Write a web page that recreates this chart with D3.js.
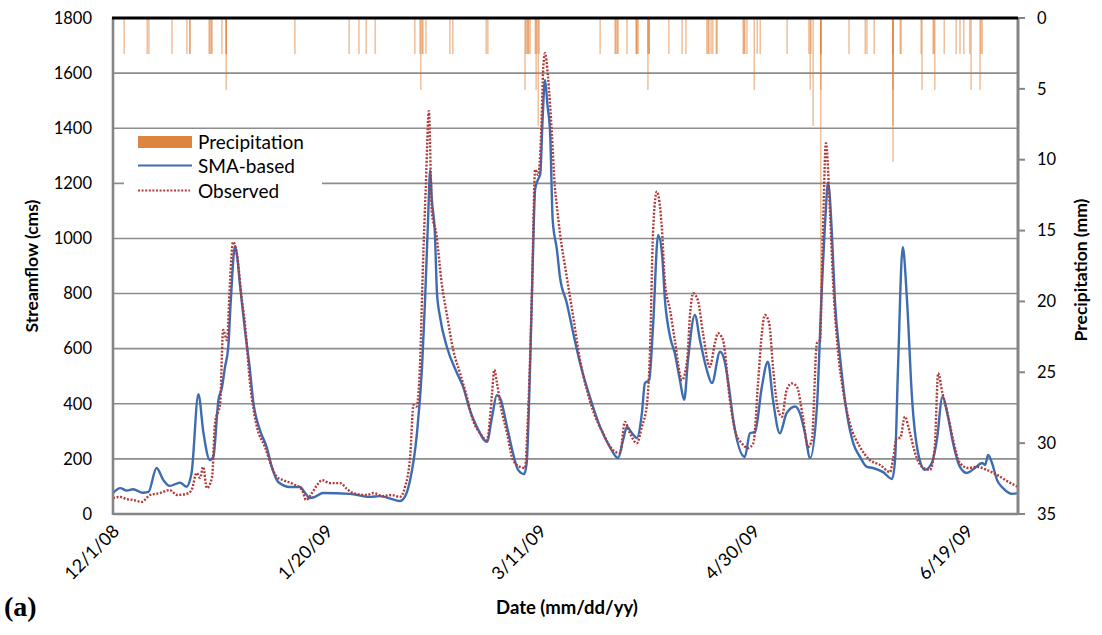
<!DOCTYPE html>
<html><head><meta charset="utf-8">
<script src="https://cdn.jsdelivr.net/npm/d3@7"></script>
<style>body{margin:0;background:#fff}</style>
</head><body><svg id="c" width="1102" height="635"></svg>
<script>
// ---------------- data ----------------
const startDate = "12/1/08";
const endDate = "7/1/09";
const xTickLabels = ["12/1/08", "1/20/09", "3/11/09", "4/30/09", "6/19/09"];
const yLeftTicks = [0, 200, 400, 600, 800, 1000, 1200, 1400, 1600, 1800];
const yRightTicks = [0, 5, 10, 15, 20, 25, 30, 35];
const seriesNames = ["Precipitation", "SMA-based", "Observed"];

// days since 12/1/08
const smaDays = [0,1.7,3.2,4.7,7,8.3,10.2,11.8,13.3,15.7,17.2,18.4,20,21.2,22.7,23.5,24.7,25.5,26.2,27,27.6,28.6,29.1,29.7,30.9,32,32.8,34.4,36,37.2,38.7,41.5,43.8,45,46.1,47.3,49.2,55.5,60.2,62.5,65.6,67.2,68.4,69.6,71.2,72.4,73.1,73.8,74.3,74.7,75.4,75.9,76.6,78.2,80.6,82,83.6,85.2,87.6,88.8,89.9,90.7,92.3,93.7,94.9,96.3,96.9,97.7,98.3,98.9,99.6,100.1,100.6,101.2,101.8,102.4,103,104,104.7,106.3,107.8,109.4,111.7,114.1,116.4,118.3,119.5,120.4,121.6,122.7,123.9,124.6,125.6,126.5,127.7,128.6,129.3,130.5,131.6,132.8,133.8,134.7,136.3,137.5,139.1,140.3,142.2,143.2,144.2,145.3,148,149.2,150.4,152,153.4,154.6,156.2,157.8,159.8,160.9,162.1,163.3,164.9,166,166.9,167.5,168.4,169.1,170.3,171.9,173.4,175,176.6,178,180.4,182.5,183.2,183.9,185,186,187.2,188.6,190.2,191.8,193,194.3,195.6,196.8,198.4,200,201.9,203.6,204.3,205,205.9,207.1,208.5,210.6,212];
const smaValues = [76,94,85,90,77,80,167,123,102,114,99,149,435,293,196,207,414,457,530,606,776,973,933,838,668,534,414,305,243,171,116,98,98,76,58,62,76,73,62,65,53,47,63,123,293,534,776,1067,1248,1140,1020,801,716,607,511,462,377,317,262,353,431,420,317,221,160,145,185,534,897,1180,1215,1235,1420,1575,1480,1382,1067,958,860,766,657,548,425,316,243,203,269,316,293,276,366,475,486,679,1012,946,776,643,583,486,414,559,722,631,523,475,589,560,470,341,207,293,298,462,553,414,293,366,390,366,293,203,390,801,1080,1202,1020,776,571,366,257,207,171,167,152,127,196,534,969,776,414,221,160,185,269,425,353,257,171,149,167,185,178,214,185,123,94,73,76];

const obsDays = [0,1.7,3.2,4.7,6.7,8.7,11,13.3,15,17.2,18.4,19.6,20.4,21.1,22,23.2,23.9,25.1,25.8,26.7,27.4,28.1,29,30.2,30.9,32.1,33.7,35.6,37.2,38.4,39.8,42.2,44.3,45.2,46.6,47.8,49,50.8,53.2,54.8,56.2,59.5,61,63.2,65.3,67.2,68.4,69.6,70.4,71.1,71.9,72.6,73.3,74,74.7,75.7,77,78.3,79.7,81.3,82.9,84.3,86,87.6,88.8,89.3,89.9,90.7,92.3,93.7,95.3,96.5,97.2,98.1,98.9,99.6,100.3,100.8,101.2,101.9,102.8,103.5,104,104.7,106.3,107.8,109.4,111,112.4,114.8,117.1,118.8,119.9,121.1,122.7,123.9,125.1,125.8,126.5,127.4,128.6,129.3,130.5,131.6,133.3,134.5,135.2,135.9,137,138.2,139.8,141,141.7,142.9,144.5,145.9,147.3,148.7,150,151.1,152,152.7,153.7,154.6,155.8,156.7,157.8,159,160.2,161.6,162.8,163.7,164.9,165.6,166.3,167,168,168.7,169.8,171,172.6,175,177.3,179.7,182,182.7,183.6,184.4,185.5,186.7,187.9,189.5,191.4,192.5,193.3,194.3,195.5,196.8,198.4,200.3,202.4,204.7,207.1,209.4,212];
const obsValues = [58,62,54,51,44,69,76,87,69,73,87,149,131,171,94,134,330,402,668,631,838,987,946,776,692,474,317,243,171,134,123,109,87,51,76,105,123,112,112,91,76,69,76,65,69,62,98,207,396,390,534,897,1200,1462,1092,1020,838,716,595,511,425,341,293,269,438,523,480,402,293,196,171,167,353,776,1250,1230,1382,1622,1672,1587,1382,1187,1114,1020,860,716,559,450,377,293,232,221,334,293,257,317,402,595,1020,1170,1031,838,740,631,486,559,729,801,776,656,534,620,656,631,414,293,257,239,257,474,656,722,693,534,377,353,450,474,462,353,243,269,620,631,1020,1346,1078,838,595,450,330,243,196,178,152,196,276,276,353,293,221,171,160,243,511,438,366,269,185,167,171,160,142,120,98];

const precipDays = [2.6,8.0,8.4,13.8,17.3,18.0,18.0,22.5,22.7,23.0,23.2,25.5,26.5,26.5,26.5,42.6,
 55.3,57.6,59.3,61.4,70.7,71.9,72.1,72.4,72.6,73.3,78.9,79.6,87.4,87.8,96.5,96.7,97.0,97.2,97.4,97.7,98.9,99.1,99.3,99.6,99.8,
 114.1,117.6,117.8,118.1,118.3,120.4,122.5,122.7,122.7,123.0,125.3,125.3,125.6,125.6,130.2,133.3,134.2,139.1,139.4,139.6,140.1,140.5,141.3,141.5,147.6,147.8,148.0,148.5,150.2,150.9,151.6,157.9,
 163.0,163.3,163.5,164.0,165.8,165.8,165.8,165.8,172.4,176.2,176.6,178.3,182.7,182.7,182.7,182.7,184.4,184.6,189.3,189.5,192.1,192.3,192.5,194.7,197.5,198.4,199.3,200.7,201.0,203.1,203.3,203.6];
const precipValues = [2.54,2.54,2.54,2.54,2.54,2.54,2.54,2.54,2.54,2.54,2.54,2.54,2.54,2.54,5.08,2.54,
 2.54,2.54,2.54,2.54,2.54,2.54,5.08,2.54,2.54,2.54,2.54,2.54,2.54,2.54,5.08,2.54,2.54,2.54,2.54,2.54,2.54,5.08,2.54,7.62,2.54,
 2.54,2.54,2.54,2.54,2.54,2.54,2.54,2.54,2.54,2.54,5.08,2.54,2.54,2.54,2.54,2.54,2.54,2.54,2.54,2.54,2.54,2.54,2.54,2.54,2.54,2.54,2.54,2.54,5.08,2.54,2.54,2.54,
 2.54,5.08,2.54,7.62,2.54,2.54,5.08,22.86,2.54,2.54,2.54,2.54,2.54,5.08,7.62,10.16,2.54,2.54,2.54,5.08,2.54,2.54,5.08,2.54,2.54,2.54,2.54,2.54,5.08,5.08,2.54,2.54];

// ---------------- drawing ----------------
const svg = d3.select("#c");
const L = 113, R = 1018, T = 18, B = 514;
const FONT = "Lato, 'Open Sans', 'DejaVu Sans', sans-serif";
const parse = d3.utcParse("%m/%d/%y");
const t0 = parse(startDate);
const dayToDate = d => new Date(t0.getTime() + d * 864e5);

const x = d3.scaleUtc().domain([t0, parse(endDate)]).range([L, R]);
const yL = d3.scaleLinear().domain([0, 1800]).range([B, T]);
const yR = d3.scaleLinear().domain([0, 35]).range([T, B]);

// gridlines
svg.append("g").selectAll("line").data(yLeftTicks.filter(v => v > 0 && v < 1800)).join("line")
  .attr("x1", L).attr("x2", R).attr("y1", d => yL(d)).attr("y2", d => yL(d))
  .attr("stroke", "#8d8d8d").attr("stroke-width", 1.6);

// precipitation bars (hanging from top)
svg.append("g").selectAll("rect").data(precipDays.map((d, i) => ({d, v: precipValues[i]}))).join("rect")
  .attr("x", p => x(dayToDate(p.d)) - 0.6).attr("width", 1.3)
  .attr("y", yR(0)).attr("height", p => yR(p.v) - yR(0))
  .attr("fill", "#e0782a").attr("fill-opacity", 0.55);

// lines
const sma = smaDays.map((d, i) => [dayToDate(d), smaValues[i]]);
const obs = obsDays.map((d, i) => [dayToDate(d), obsValues[i]]);
const line = d3.line().x(p => x(p[0])).y(p => yL(p[1])).curve(d3.curveMonotoneX);
svg.append("path").attr("d", line(sma)).attr("fill", "none")
  .attr("stroke", "#3d6cb0").attr("stroke-width", 2.4);
svg.append("path").attr("d", line(obs)).attr("fill", "none")
  .attr("stroke", "#b03a3a").attr("stroke-width", 2.4).attr("stroke-dasharray", "2,1.6");

// axes frame
svg.append("line").attr("x1", L).attr("x2", L).attr("y1", T).attr("y2", B + 1)
  .attr("stroke", "#858585").attr("stroke-width", 2.6);
svg.append("line").attr("x1", L).attr("x2", R).attr("y1", B).attr("y2", B)
  .attr("stroke", "#858585").attr("stroke-width", 2.6);
svg.append("line").attr("x1", R).attr("x2", R).attr("y1", T).attr("y2", B + 1)
  .attr("stroke", "#858585").attr("stroke-width", 3);
svg.append("line").attr("x1", L - 1).attr("x2", R).attr("y1", T).attr("y2", T)
  .attr("stroke", "#000").attr("stroke-width", 3.2);

// left axis labels
svg.append("g").selectAll("text").data(yLeftTicks).join("text")
  .attr("x", 92).attr("y", d => yL(d)).attr("dy", "0.35em").attr("text-anchor", "end")
  .attr("font-family", FONT).attr("font-size", 16.5).attr("fill", "#000").text(d => d);

// right axis ticks and labels
svg.append("g").selectAll("line").data(yRightTicks).join("line")
  .attr("x1", R).attr("x2", R + 7).attr("y1", d => yR(d)).attr("y2", d => yR(d))
  .attr("stroke", "#858585").attr("stroke-width", 2);
svg.append("g").selectAll("text").data(yRightTicks).join("text")
  .attr("x", 1037).attr("y", d => yR(d)).attr("dy", "0.35em").attr("text-anchor", "start")
  .attr("font-family", FONT).attr("font-size", 16.5).attr("fill", "#000").text(d => d);

// x tick labels
svg.append("g").selectAll("text").data(xTickLabels).join("text")
  .attr("transform", d => `translate(${x(parse(d)) + 3},${B + 14}) rotate(-45)`)
  .attr("dy", "0.35em").attr("text-anchor", "end")
  .attr("font-family", FONT).attr("font-size", 18).attr("fill", "#000").text(d => d);

// axis titles
svg.append("text").attr("transform", `translate(38,${(T + B) / 2}) rotate(-90)`)
  .attr("text-anchor", "middle").attr("font-family", FONT).attr("font-weight", "bold")
  .attr("font-size", 17.5).text("Streamflow (cms)");
svg.append("text").attr("transform", `translate(1087,${(T + B) / 2 + 4}) rotate(-90)`)
  .attr("text-anchor", "middle").attr("font-family", FONT).attr("font-weight", "bold")
  .attr("font-size", 17.5).text("Precipitation (mm)");
svg.append("text").attr("x", 567).attr("y", 614)
  .attr("text-anchor", "middle").attr("font-family", FONT).attr("font-weight", "bold")
  .attr("font-size", 18.5).text("Date (mm/dd/yy)");
svg.append("text").attr("x", 4).attr("y", 616)
  .attr("font-family", "'Liberation Serif', 'DejaVu Serif', serif").attr("font-weight", "bold")
  .attr("font-size", 28).text("(a)");

// legend
const lg = svg.append("g");
lg.append("rect").attr("x", 124).attr("y", 131).attr("width", 198).attr("height", 70).attr("fill", "#fff");
lg.append("rect").attr("x", 138).attr("y", 136).attr("width", 54).attr("height", 12).attr("fill", "#dd8441");
lg.append("line").attr("x1", 138).attr("x2", 192).attr("y1", 165.5).attr("y2", 165.5)
  .attr("stroke", "#3d6cb0").attr("stroke-width", 1.8);
lg.append("line").attr("x1", 138).attr("x2", 190).attr("y1", 190.5).attr("y2", 190.5)
  .attr("stroke", "#b03a3a").attr("stroke-width", 2.2).attr("stroke-dasharray", "2,1.6");
lg.selectAll("text").data(seriesNames).join("text")
  .attr("x", 198).attr("y", (d, i) => 142 + i * 24.5).attr("dy", "0.35em")
  .attr("font-family", FONT).attr("font-size", 19).attr("fill", "#000").text(d => d);
</script></body></html>
